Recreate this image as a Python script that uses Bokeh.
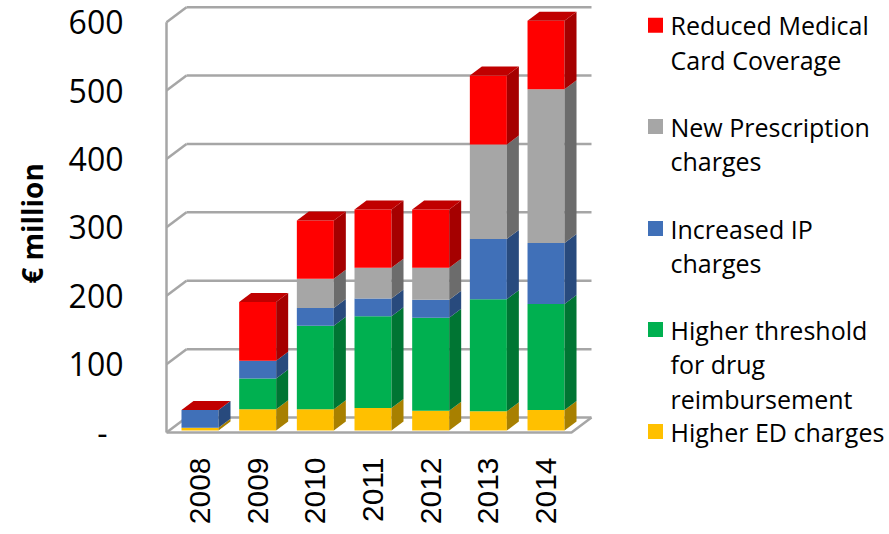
import math
from bokeh.plotting import figure
from bokeh.models import Range1d, ColumnDataSource
from bokeh.core.properties import value
from bokeh.embed import file_html
from bokeh.resources import INLINE

# ---------------- data ----------------
years = ["2008", "2009", "2010", "2011", "2012", "2013", "2014"]
higher_ed = [4, 31, 31, 33, 29, 28, 30]
higher_threshold = [0, 45, 122, 134, 136, 164, 155]
increased_ip = [26, 26, 26, 26, 26, 88, 89]
new_prescription = [0, 0, 43, 45, 47, 138, 225]
reduced_medical_card = [0, 86, 85, 85, 85, 101, 100]

series_labels = ["Higher ED charges",
                 "Higher threshold\nfor drug\nreimbursement",
                 "Increased IP\ncharges",
                 "New Prescription\ncharges",
                 "Reduced Medical\nCard Coverage"]
y_ticks = [0, 100, 200, 300, 400, 500, 600]
y_tick_labels = ["-", "100", "200", "300", "400", "500", "600"]
y_title = "€ million"

series_values = [higher_ed, higher_threshold, increased_ip, new_prescription, reduced_medical_card]
front_colors = ["#FFC000", "#00B050", "#4070B8", "#A6A6A6", "#FF0000"]
side_colors = ["#A88000", "#007533", "#284A7D", "#6C6C6C", "#A50000"]
top_color = "#C00000"

# ---------------- layout (pixel <-> data) ----------------
W, H = 889, 534
X0PX, XSTEP = 199.5, 57.67   # centre of first bar, px per category
Y0PX, YK = 430.0, 0.684      # baseline px, px per EUR million

def u(px):
    return (px - X0PX) / XSTEP

def v(py):
    return (Y0PX - py) / YK

p = figure(width=W, height=H, x_range=Range1d(u(0), u(W)), y_range=Range1d(v(H), v(0)),
           x_axis_type=None, y_axis_type=None, toolbar_location=None,
           output_backend="svg", min_border=0)
p.outline_line_color = None
p.grid.visible = False
p.background_fill_color = "white"
p.border_fill_color = "white"

# ---------------- walls ----------------
WALL_X0 = u(166)
WALL_X1 = u(571)
WALL_DX = 20 / XSTEP
WALL_DY = 15 / YK
FS = -3.0
wall_color = "#A6A6A6"
wall_w = 2.5

grid_xs, grid_ys = [], []
for t in y_ticks:
    yb = t + FS + WALL_DY
    grid_xs.append([WALL_X0 + WALL_DX, WALL_X1 + WALL_DX])
    grid_ys.append([yb, yb])
    grid_xs.append([WALL_X0, WALL_X0 + WALL_DX])
    grid_ys.append([t + FS, yb])
# front-left vertical edge
grid_xs.append([WALL_X0, WALL_X0])
grid_ys.append([y_ticks[0] + FS, y_ticks[-1] + FS])
# floor front edge and right diagonal
grid_xs.append([WALL_X0, WALL_X1, WALL_X1 + WALL_DX])
grid_ys.append([FS, FS, FS + WALL_DY])
p.multi_line(xs=grid_xs, ys=grid_ys, line_color=wall_color, line_width=wall_w)

# ---------------- 3D stacked bars ----------------
BW = 37 / XSTEP
BDX = 12 / XSTEP
BDY = 9 / YK
xc = list(range(len(years)))

bottoms = [0.0] * len(years)
for vals, fc, sc in zip(series_values, front_colors, side_colors):
    tops = [b + val for b, val in zip(bottoms, vals)]
    src = ColumnDataSource(dict(x=[x for x, val in zip(xc, vals) if val > 0],
                                bottom=[b for b, val in zip(bottoms, vals) if val > 0],
                                top=[t for t, val in zip(tops, vals) if val > 0]))
    p.vbar(x="x", bottom="bottom", top="top", width=BW, source=src,
           fill_color=fc, line_color=None)
    sxs, sys_ = [], []
    for x, b, t, val in zip(xc, bottoms, tops, vals):
        if val <= 0:
            continue
        x1 = x + BW / 2
        sxs.append([x1, x1 + BDX, x1 + BDX, x1])
        sys_.append([b, b + BDY, t + BDY, t])
    if sxs:
        p.patches(xs=sxs, ys=sys_, fill_color=sc, line_color=None)
    bottoms = tops

totals = bottoms
txs, tys = [], []
for x, T in zip(xc, totals):
    x0, x1 = x - BW / 2, x + BW / 2
    txs.append([x0, x0 + BDX, x1 + BDX, x1])
    tys.append([T, T + BDY, T + BDY, T])
p.patches(xs=txs, ys=tys, fill_color=top_color, line_color=None)

# ---------------- axis texts ----------------
p.text(x=[u(123)] * len(y_ticks), y=[t + FS for t in y_ticks], text=y_tick_labels,
       x_offset=[-16 if s == "-" else 0 for s in y_tick_labels],
       text_align="right", text_baseline="middle", text_font=value("Open Sans"),
       text_font_size="32px", text_color="black")

p.text(x=xc, y=[v(457)] * len(years), text=years, angle=math.pi / 2,
       text_align="right", text_baseline="middle", text_font=value("Liberation Sans"),
       text_font_size="30px", text_color="black")

p.text(x=[u(31)], y=[v(223)], text=[y_title], angle=math.pi / 2,
       text_align="center", text_baseline="middle", text_font=value("Open Sans"),
       text_font_style="bold", text_font_size="28px", text_color="black")

# ---------------- legend ----------------
leg_y_px = [431, 329, 228, 126, 24.7]   # item centres, same order as series
LINE_PX = 34.5
p.scatter(x=[u(655)] * len(front_colors), y=[v(py) for py in leg_y_px], marker="square",
          size=15, fill_color=front_colors, line_color=None)
lx, ly, lt = [], [], []
for lab, py in zip(series_labels, leg_y_px):
    for k, line in enumerate(lab.split("\n")):
        lx.append(u(670))
        ly.append(v(py + k * LINE_PX))
        lt.append(line)
p.text(x=lx, y=ly, text=lt, text_align="left", text_baseline="middle",
       text_font=value("Open Sans"), text_font_size="25px", text_color="black")

open("out.html", "w").write(file_html(p, INLINE))
